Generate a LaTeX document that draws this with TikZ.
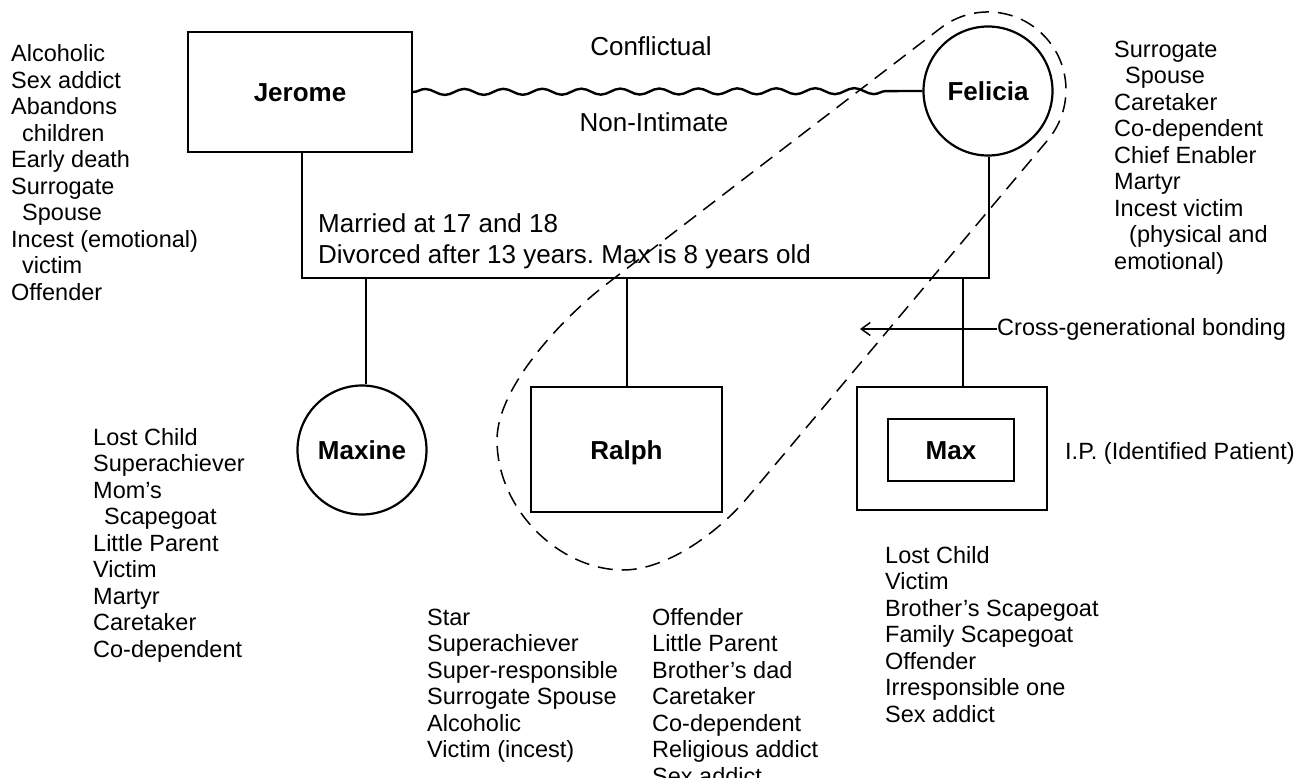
\documentclass[tikz,border=0pt]{standalone}
\usepackage{fontspec}
\setmainfont{Liberation Sans}
\usetikzlibrary{arrows.meta,decorations.pathmorphing}
\frenchspacing

% sizes of the two kinds of text
\newcommand\listsize{\fontsize{23.5}{26.5}\selectfont}
\newcommand\labelsize{\fontsize{26}{31}\selectfont}
% a left-aligned stack of lines whose baseline is the first line
\newcommand\rolelist[1]{\begin{tabular}[t]{@{}l@{}}#1\end{tabular}}
\newcommand\ind{\hspace*{11pt}}

\begin{document}
\begin{tikzpicture}[x=1pt,y=-1pt,
  person/.style={draw, line width=2.2pt, inner sep=0pt,
    font=\fontsize{26}{30}\selectfont\bfseries, text height=19pt, text depth=0pt},
  male/.style={person, rectangle},
  female/.style={person, circle},
  roles/.style={anchor=base west, inner sep=0pt, font=\listsize},
  caption/.style={anchor=base, inner sep=0pt, font=\labelsize},
  link/.style={line width=2.2pt},
  conflict/.style={line width=2.4pt, decorate,
    decoration={snake, segment length=39pt, amplitude=3pt, post length=22pt}},
  bond/.style={line width=1.5pt, dash pattern=on 15pt off 9pt},
  pointer/.style={line width=1.5pt, -{Straight Barb[length=9pt,width=13pt]}},
]
\fill[white] (0,0) rectangle (1296,777);
\useasboundingbox (0,0) rectangle (1296,777);

% parents
\node[male, minimum width=224pt, minimum height=120pt] (jerome) at (300,92) {Jerome};
\node[female, minimum size=129pt] (felicia) at (988,91) {Felicia};

% children
\node[female, minimum size=129pt] (maxine) at (362,450) {Maxine};
\node[male, minimum width=191pt, minimum height=125pt] (ralph) at (626.5,449.5) {Ralph};
\node[male, minimum width=190pt, minimum height=123pt] (maxouter) at (952,448.5) {};
\node[male, minimum width=126pt, minimum height=62pt] (max) at (951,450) {Max};

% marriage line and child drops
\coordinate (barL) at (302,278);
\coordinate (barR) at (989,278);
\coordinate (dMaxine) at (366,278);
\coordinate (dRalph) at (627,278);
\coordinate (dMax) at (963,278);
\draw[link] (jerome.south -| barL) -- (barL) -- (barR) -- (barR |- felicia.south);
\draw[link] (dMaxine) -- (dMaxine |- maxine.north);
\draw[link] (dRalph) -- (dRalph |- ralph.north);
\draw[link] (dMax) -- (dMax |- maxouter.north);

% conflictual relationship between the parents
\draw[conflict] (jerome.east) -- (felicia.west);
\node[caption] (conflictual) at (651,55) {Conflictual};
\node[caption] (nonintimate) at (654,131) {Non-Intimate};
\node[roles, font=\labelsize] (marriage) at (318,232)
  {\rolelist{Married at 17 and 18\\Divorced after 13 years. Max is 8 years old}};

% cross-generational bond around Felicia and Ralph
\coordinate (bondA) at (608,283);
\draw[bond] (bondA) -- (940.2,28.4)
  .. controls (971.7,3.9) and (1016.5,7.1) .. (1044.2,35.9)
  .. controls (1071.9,64.7) and (1073.3,109.5) .. (1047.7,140.1)
  -- (748,497)
  .. controls (716,535) and (665,570) .. (623,570)
  .. controls (560,570) and (497,510) .. (497,440)
  .. controls (497,385) and (568,313) .. (bondA) -- cycle;

\node[roles] (crossgen) at (997,335) {Cross-generational bonding};
\coordinate (bondTip) at (860,329);
\draw[pointer] (crossgen.west |- bondTip) -- (bondTip);

\node[roles] (ip) at (1065,459) {I.P. (Identified Patient)};

% roles of each family member
\node[roles] (jeromeRoles) at (11,61.5) {\rolelist{Alcoholic\\Sex addict\\Abandons\\\ind children\\Early death\\Surrogate\\\ind Spouse\\Incest (emotional)\\\ind victim\\Offender}};
\node[roles] (feliciaRoles) at (1114,57) {\rolelist{Surrogate\\\ind Spouse\\Caretaker\\Co-dependent\\Chief Enabler\\Martyr\\Incest victim\\\hspace*{15pt}(physical and\\emotional)}};
\node[roles] (maxineRoles) at (93,445) {\rolelist{Lost Child\\Superachiever\\Mom’s\\\ind Scapegoat\\Little Parent\\Victim\\Martyr\\Caretaker\\Co-dependent}};
\node[roles] (ralphRolesA) at (427,625) {\rolelist{Star\\Superachiever\\Super-responsible\\Surrogate Spouse\\Alcoholic\\Victim (incest)}};
\node[roles] (ralphRolesB) at (652,625) {\rolelist{Offender\\Little Parent\\Brother’s dad\\Caretaker\\Co-dependent\\Religious addict\\Sex addict}};
\node[roles] (maxRoles) at (885,563) {\rolelist{Lost Child\\Victim\\Brother’s Scapegoat\\Family Scapegoat\\Offender\\Irresponsible one\\Sex addict}};
\end{tikzpicture}
\end{document}
